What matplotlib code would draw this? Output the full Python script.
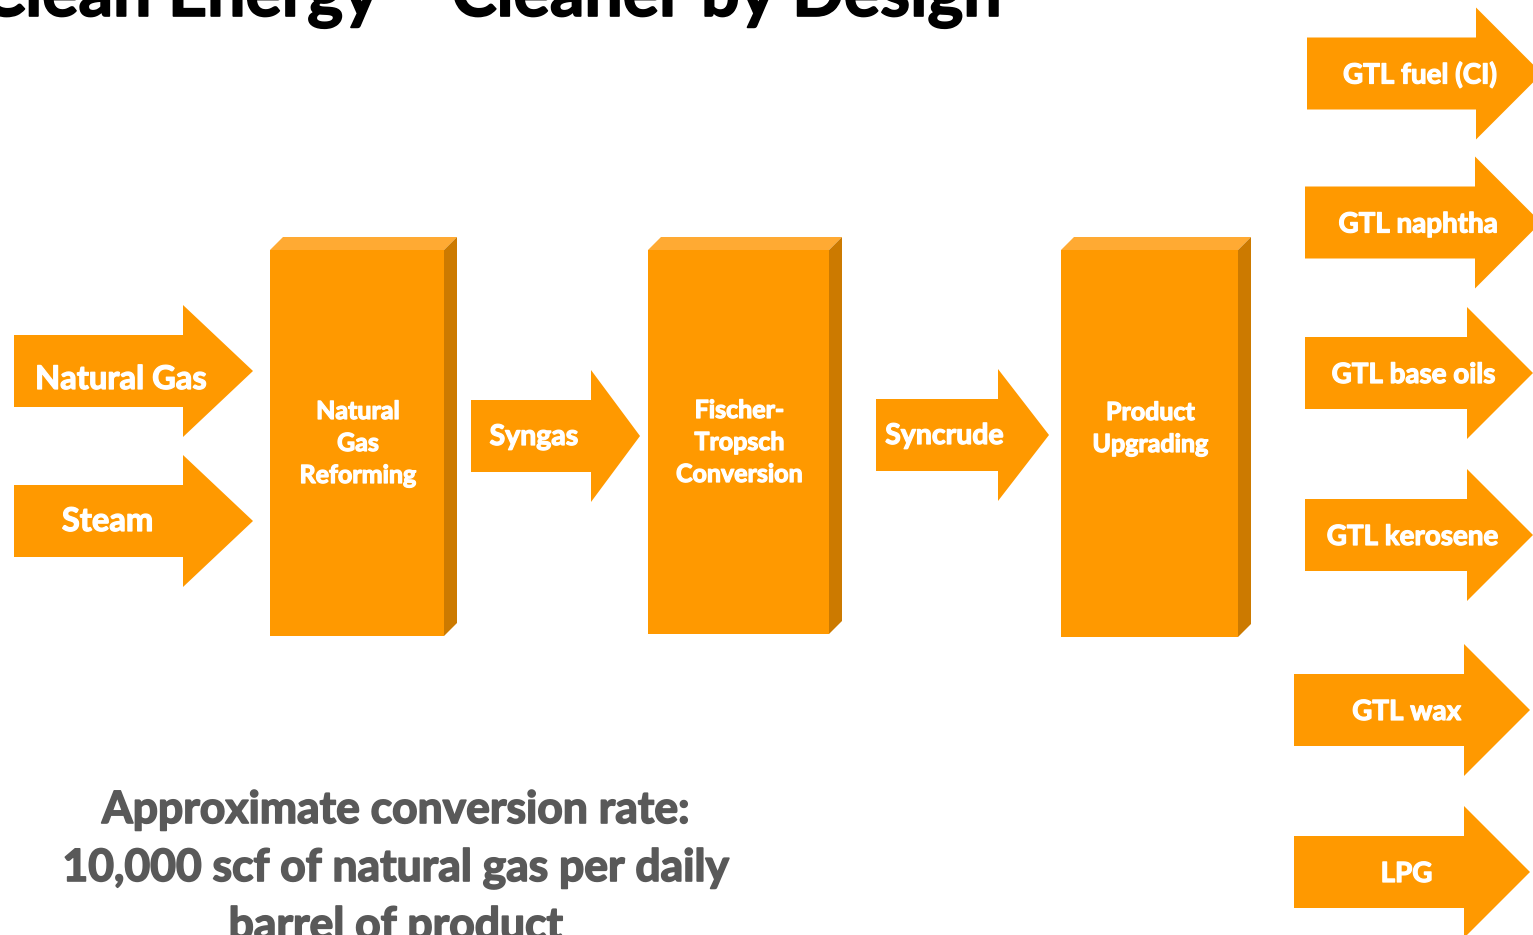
import matplotlib.pyplot as plt
from matplotlib.patches import Polygon
import matplotlib.patheffects as pe

# labels shown in the diagram
title = "Clean Energy \u2013 Cleaner by Design"
inputs = ["Natural Gas", "Steam"]
stages = [["Natural", "Gas", "Reforming"], ["Fischer-", "Tropsch", "Conversion"], ["Product", "Upgrading"]]
links = ["Syngas", "Syncrude"]
products = ["GTL fuel (CI)", "GTL naphtha", "GTL base oils", "GTL kerosene", "GTL wax", "LPG"]
note = ["Approximate conversion rate:", "10,000 scf of natural gas per daily", "barrel of product"]

ORANGE = "#FF9900"
TOP = "#FFAA33"
SIDE = "#CC7A00"
GREY = "#595959"
plt.rcParams['font.family'] = ['Lato', 'DejaVu Sans']

fig = plt.figure(figsize=(15.33, 9.35), dpi=100)
ax = fig.add_axes([0, 0, 1, 1])
ax.set_xlim(0, 1533)
ax.set_ylim(935, 0)
ax.axis('off')


def arrow(x0, xb, yc, hb=36, hh=66, tip=None):
    # block arrow: body from x0 to xb, head from xb to tip
    if tip is None:
        tip = xb + hh
    pts = [(x0, yc - hb), (xb, yc - hb), (xb, yc - hh), (tip, yc),
           (xb, yc + hh), (xb, yc + hb), (x0, yc + hb)]
    ax.add_patch(Polygon(pts, closed=True, fc=ORANGE, ec='none'))


def box(x0, x1, y0, y1, d=13):
    # front, top and right faces of a 3d block
    ax.add_patch(Polygon([(x0, y0), (x1, y0), (x1, y1), (x0, y1)], fc=ORANGE, ec='none'))
    ax.add_patch(Polygon([(x0, y0), (x0 + d, y0 - d), (x1 + d, y0 - d), (x1, y0)], fc=TOP, ec='none'))
    ax.add_patch(Polygon([(x1, y0), (x1 + d, y0 - d), (x1 + d, y1 - d), (x1, y1)], fc=SIDE, ec='none'))


def label(x, y, s, size, color='white', lw=0.9):
    # bold text, thickened a little with a stroke of its own colour
    ax.text(x, y, s, color=color, fontsize=size, fontweight='bold', ha='center', va='baseline',
            path_effects=[pe.withStroke(linewidth=lw, foreground=color)])


# inputs
in_y = [371, 521]
in_base = [389, 531]
in_tx = [120.5, 107.5]
for lab, y, b, tx in zip(inputs, in_y, in_base, in_tx):
    arrow(14, 183, y, tip=253)
    label(tx, b, lab, 23.5)

# process blocks
box_x = [(270, 444), (648, 829), (1061, 1238)]
box_y = [(250, 636), (250, 634), (250, 637)]
box_base = [419, 418, 420]
for lines, (x0, x1), (y0, y1), b in zip(stages, box_x, box_y, box_base):
    box(x0, x1, y0, y1)
    for i, s in enumerate(lines):
        label((x0 + x1) / 2 + 1, b + 32 * i, s, 18)

# intermediate streams
link_geo = [(471, 591, 436, 640), (876, 998, 435, 1049)]
link_tx = [534, 944.5]
for lab, (x0, xb, y, tip), tx in zip(links, link_geo, link_tx):
    arrow(x0, xb, y, tip=tip)
    label(tx, y + 9, lab, 20.5)

# products
prod_y = [73.5, 222.5, 373, 535, 710, 872]
prod_x0 = [1307, 1305, 1305, 1305, 1294, 1294]
prod_xb = [1476, 1475, 1467, 1467, 1464, 1464]
prod_tx = [1420, 1418, 1413.5, 1412.5, 1406.5, 1406.5]
for lab, y, x0, xb, tx in zip(products, prod_y, prod_x0, prod_xb, prod_tx):
    arrow(x0, xb, y)
    label(tx, y + 10, lab, 20)

# title (clipped at the top edge, as in the source) and note
ax.text(1000, 16, title, color='black', fontsize=49, fontweight='bold', ha='right', va='baseline',
        path_effects=[pe.withStroke(linewidth=1.2, foreground='black')])
for i, s in enumerate(note):
    label(396, 823 + 58 * i, s, 32, color=GREY, lw=1.2)

fig.savefig('out.png', dpi=100)
